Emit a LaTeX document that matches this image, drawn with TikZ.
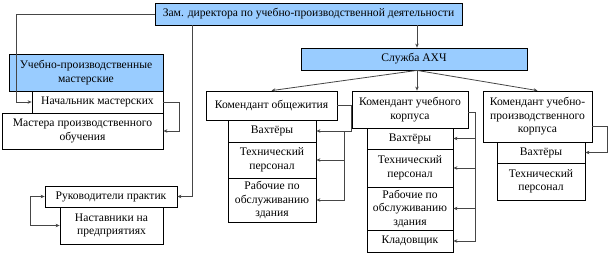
\documentclass[tikz,border=0pt]{standalone}
\usepackage{fontspec}
\setmainfont{Liberation Serif}
\usetikzlibrary{arrows.meta,calc}
\definecolor{boxblue}{RGB}{153,204,255}
\definecolor{conn}{RGB}{70,70,70}
\begin{document}
\begin{tikzpicture}[x=1pt,y=-1pt,
  bx/.style={draw=black,line width=0.8pt,fill=white,inner sep=0pt,align=center,
    font=\fontsize{11.6}{13.5}\selectfont},
  blue/.style={bx,fill=boxblue},
  cn/.style={draw=conn,line width=0.8pt},
  ar/.style={cn,-{Stealth[length=4pt,width=3.5pt]}},
  ar2/.style={cn,{Stealth[length=4pt,width=3.5pt]}-{Stealth[length=4pt,width=3.5pt]}}]
\useasboundingbox (0,0) rectangle (609,257);
% boxes
\node[blue,minimum width=307,minimum height=22] (zam) at (308.5,14) {Зам. директора по учебно-производственной деятельности};
\node[blue,minimum width=226,minimum height=22] (ahch) at (414,59) {Служба АХЧ};
\node[blue,minimum width=154,minimum height=37] (upm) at (86,72.5) {Учебно-производственные\\мастерские};
\node[bx,minimum width=131,minimum height=22] (nach) at (97.5,102) {Начальник мастерских};
\node[bx,minimum width=161,minimum height=36] (mast) at (82.5,131) {Мастера производственного\\обучения};
\node[bx,minimum width=132,minimum height=21] (ruk) at (111,196.5) {Руководители практик};
\node[bx,minimum width=103,minimum height=37] (nast) at (111.5,225.5) {Наставники на\\предприятиях};
\node[bx,minimum width=131,minimum height=29] (kob) at (271.5,105.5) {Комендант общежития};
\node[bx,minimum width=116,minimum height=37] (kuk) at (410,109.5) {Комендант учебного\\корпуса};
\node[bx,minimum width=109,minimum height=51] (kupk) at (537.5,116.5) {Комендант учебно-\\производственного\\корпуса};
% subordinates of kob
\node[bx,minimum width=88,minimum height=22] (ob1) at (272,131) {Вахтёры};
\node[bx,minimum width=88,minimum height=36] (ob2) at (272,160) {Технический\\персонал};
\node[bx,minimum width=88,minimum height=44] (ob3) at (272,200) {Рабочие по\\обслуживанию\\здания};
% subordinates of kuk
\node[bx,minimum width=86,minimum height=21] (uk1) at (410,138.5) {Вахтёры};
\node[bx,minimum width=86,minimum height=38] (uk2) at (410,168) {Технический\\персонал};
\node[bx,minimum width=86,minimum height=43] (uk3) at (410,208.5) {Рабочие по\\обслуживанию\\здания};
\node[bx,minimum width=86,minimum height=22] (uk4) at (410,241) {Кладовщик};
% subordinates of kupk
\node[bx,minimum width=88,minimum height=21] (up1) at (541,152.5) {Вахтёры};
\node[bx,minimum width=88,minimum height=37] (up2) at (541,181.5) {Технический\\персонал};
% helper coordinates
\coordinate (xa) at (16,0);
\coordinate (xb) at (192,0);
\coordinate (xc) at (417,0);
\coordinate (xd) at (344,0);
\coordinate (xe) at (475,0);
\coordinate (xf) at (607,0);
\coordinate (xg) at (179,0);
% connectors
\draw[ar] (zam.west) -| (xa |- nach.west) -- (nach.west);
\draw[ar] (nach.east) -| (xg |- mast.east) -- (mast.east);
\draw[ar] (zam.south -| xb) |- (ruk.east);
\draw[ar2] (ruk.west) -- ++(-14,0) |- (nast.west);
\draw[ar] (zam.south -| xc) -- (ahch.north -| xc);
\draw[ar] (ahch.south -| xc) -- (kob.north);
\draw[ar] (ahch.south -| xc) -- (kuk.north -| xc);
\draw[ar] (ahch.south -| xc) -- (kupk.north);
\draw[ar] (kob.east) -| (kuk.west |- ob1.east) -- (ob1.east);
\draw[ar] (xd |- ob1.east) |- (ob2.east);
\draw[ar] (xd |- ob1.east) |- (ob3.east);
\draw[ar] ($(kuk.east)+(0,3)$) -| (xe |- uk1.east) -- (uk1.east);
\draw[ar] (xe |- uk1.east) |- (uk2.east);
\draw[ar] (xe |- uk1.east) |- (uk3.east);
\draw[ar] (xe |- uk1.east) |- (uk4.east);
\draw[ar] ($(kupk.east)+(0,10)$) -| (xf |- up1.east) -- (up1.east);
\end{tikzpicture}
\end{document}
